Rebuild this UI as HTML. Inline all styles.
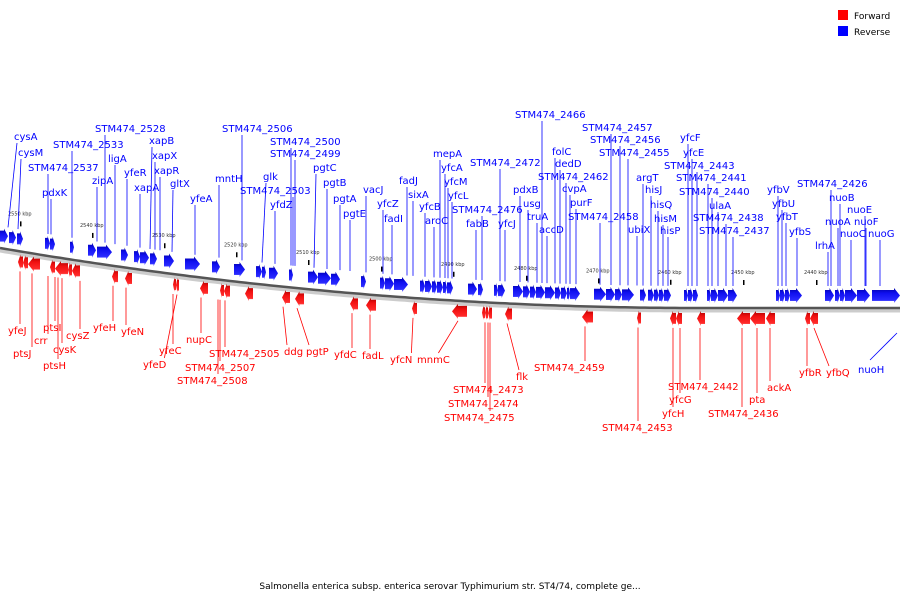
<!DOCTYPE html>
<html><head><meta charset="utf-8"><style>
body{margin:0;background:#fff;width:900px;height:600px;overflow:hidden}
svg{display:block;font-family:"DejaVu Sans","Liberation Sans",sans-serif}
</style></head><body>
<svg id="c" width="900" height="600" viewBox="0 0 900 600">
<defs>
<linearGradient id="gb" x1="0" y1="0" x2="0" y2="1"><stop offset="0" stop-color="#0000a8"/><stop offset="0.35" stop-color="#1010f0"/><stop offset="0.8" stop-color="#2a2aff"/><stop offset="1" stop-color="#9a9aff"/></linearGradient>
<linearGradient id="gr" x1="0" y1="0" x2="0" y2="1"><stop offset="0" stop-color="#a80000"/><stop offset="0.35" stop-color="#f01010"/><stop offset="0.8" stop-color="#ff2a2a"/><stop offset="1" stop-color="#ff9a9a"/></linearGradient>
</defs>
<g>
<rect x="838" y="10" width="10" height="10" fill="#f00"/>
<text x="854" y="19" font-size="9">Forward</text>
<rect x="838" y="26" width="10" height="10" fill="#00f"/>
<text x="854" y="35" font-size="9">Reverse</text>
</g>
<text x="450" y="589" font-size="9" text-anchor="middle">Salmonella enterica subsp. enterica serovar Typhimurium str. ST4/74, complete ge...</text>
</svg>
<script>
const blueGenes=[[0,8],[9,16],[17,23],[45,50],[50,55],[70,74],[88,96],[97,112],[121,128],[134,140],[140,149],[150,157],[164,174],[185,200],[212,220],[234,245],[256,262],[262,266],[269,278],[289,293],[308,318],[318,331],[331,340],[361,366],[380,385],[385,394],[394,408],[420,425],[425,432],[432,437],[437,443],[443,447],[447,453],[468,477],[478,483],[494,498],[498,505],[513,523],[523,530],[530,536],[536,545],[545,555],[555,561],[561,567],[567,570],[570,580],[594,606],[606,615],[615,622],[622,634],[640,646],[648,654],[654,659],[659,664],[664,671],[684,688],[688,693],[693,698],[707,711],[711,718],[718,728],[728,737],[776,780],[780,785],[785,790],[790,802],[825,834],[835,840],[840,845],[845,857],[857,870],[872,900]];
const redGenes=[[18,23],[23,28],[28,40],[50,55],[55,68],[68,72],[72,80],[112,118],[125,132],[173,176],[176,179],[200,208],[220,224],[224,230],[245,253],[282,290],[295,304],[350,358],[366,376],[412,417],[452,467],[482,485],[485,488],[488,492],[505,512],[582,593],[637,641],[670,676],[676,682],[697,705],[737,750],[750,765],[766,775],[805,810],[810,818]];
const blueNames=["cysA","cysM","STM474_2537","pdxK","STM474_2533","STM474_2528","ligA","zipA","yfeR","xapA","xapB","xapX","xapR","gltX","yfeA","mntH","STM474_2506","glk","STM474_2503","yfdZ","STM474_2500","STM474_2499","pgtC","pgtB","pgtA","pgtE","vacJ","yfcZ","fadI","fadJ","sixA","yfcB","aroC","mepA","yfcA","yfcM","yfcL","STM474_2476","fabB","STM474_2472","yfcJ","STM474_2466","pdxB","usg","truA","accD","folC","dedD","STM474_2462","cvpA","purF","STM474_2458","STM474_2457","STM474_2456","STM474_2455","argT","hisJ","ubiX","hisQ","hisM","hisP","yfcF","yfcE","STM474_2443","STM474_2441","STM474_2440","ulaA","STM474_2438","STM474_2437","yfbV","yfbU","yfbT","yfbS","STM474_2426","nuoB","nuoE","nuoA","nuoF","nuoC","nuoG","lrhA"];
const blueLabelX=[14,18,28,42,53,95,108,92,124,134,149,152,154,170,190,215,222,263,240,270,270,270,313,323,333,343,363,377,384,399,408,419,425,433,441,444,448,452,466,470,498,515,513,523,527,539,552,555,538,562,570,568,582,590,599,636,645,628,650,654,660,680,683,664,676,679,709,693,699,767,772,776,789,797,829,847,825,854,840,868,815];
const blueLabelY=[140,156,171,196,148,132,162,184,176,191,144,159,174,187,202,182,132,180,194,208,145,157,171,186,202,217,193,207,222,184,198,210,224,157,171,185,199,213,227,166,227,118,193,207,220,233,155,167,180,192,206,220,131,143,156,181,193,233,208,222,234,141,156,169,181,195,209,221,234,193,207,220,235,187,201,213,225,225,237,237,249];
const blueGeneX=[8,18,48,51,72,105,115,97,127,140,150,155,160,172,195,219,242,262,293,275,291,295,314,327,340,350,366,383,392,407,413,425,434,440,445,448,452,482,476,500,505,542,520,528,537,547,555,560,566,570,576,600,611,620,628,643,651,637,658,663,668,688,692,697,708,712,718,726,733,778,782,786,797,831,840,865,838,866,851,880,828];
const redNames=["yfeJ","ptsJ","crr","ptsI","cysK","ptsH","cysZ","yfeH","yfeN","yfeC","yfeD","nupC","STM474_2505","STM474_2507","STM474_2508","ddg","pgtP","yfdC","fadL","yfcN","mnmC","STM474_2473","STM474_2474","STM474_2475","flk","STM474_2459","STM474_2453","STM474_2442","yfcG","yfcH","STM474_2436","pta","ackA","yfbR","yfbQ"];
const redLabelX=[8,13,34,43,53,43,66,93,121,159,143,186,209,185,177,284,306,334,362,390,417,453,448,444,516,534,602,668,669,662,708,749,767,799,826];
const redLabelY=[334,357,344,331,353,369,339,331,335,354,368,343,357,371,384,355,355,358,359,363,363,393,407,421,380,371,431,390,403,417,417,403,391,376,376];
const redGeneX=[20,32,48,55,62,58,80,113,126,173,177,201,225,220,218,283,297,352,370,413,458,485,488,490,507,585,638,700,680,673,742,757,770,807,814];
const kbpLabels=["2550 kbp","2540 kbp","2530 kbp","2520 kbp","2510 kbp","2500 kbp","2490 kbp","2480 kbp","2470 kbp","2460 kbp","2450 kbp","2440 kbp"];
const kbpPos=[8,80,152,224,296,369,441,514,586,658,731,804];

const svg=document.getElementById('c');
const NS='http://www.w3.org/2000/svg';
function yb(x){const t=Math.max(0,1-x/700);return 308-60*t*t;}
function mk(tag,attrs){const e=document.createElementNS(NS,tag);for(const k in attrs)e.setAttribute(k,attrs[k]);svg.appendChild(e);return e;}
let d='';for(let x=0;x<=900;x+=5){d+=(x?'L':'M')+x+','+yb(x).toFixed(1);}
const sh=mk('path',{d:d,fill:'none',stroke:'#ccc','stroke-width':5,transform:'translate(0,2)'});


const bb=mk('path',{d:d,fill:'none',stroke:'#555','stroke-width':2.5});


kbpLabels.forEach((s,i)=>{const x=kbpPos[i];const y=yb(x)-34;
 const t=mk('text',{x:x,y:y,'font-size':5,fill:'#333'});t.textContent=s;
 
 
 const tk=mk('rect',{x:x+12,y:yb(x)-28,width:1.5,height:5,fill:'#000'});
 
 
});
function tw(s){return s.length*6.1;}
blueGenes.forEach(g=>{const a=g[0],b=g[1],x=(a+b)/2,y=yb(x);const top=y-20,bot=y-5,h=Math.min(6,(b-a)*0.5);
 const p=mk('polygon',{points:`${a},${top+2} ${b-h},${top+2} ${b-h},${top} ${b},${(top+bot)/2} ${b-h},${bot} ${b-h},${bot-2} ${a},${bot-2}`,fill:'url(#gb)'});
 
 
});
redGenes.forEach(g=>{const a=g[0],b=g[1],x=(a+b)/2,y=yb(x);const top=y+3,bot=y+18,h=Math.min(6,(b-a)*0.5);
 const p=mk('polygon',{points:`${b},${top+2} ${a+h},${top+2} ${a+h},${top} ${a},${(top+bot)/2} ${a+h},${bot} ${a+h},${bot-2} ${b},${bot-2}`,fill:'url(#gr)'});
 
 
});
blueNames.forEach((s,i)=>{const tx=blueLabelX[i],ty=blueLabelY[i],gx=blueGeneX[i];
 const sx=Math.min(Math.max(gx,tx+3),tx+tw(s)-3);
 const l=mk('line',{x1:sx,y1:ty+3,x2:gx,y2:yb(gx)-22,stroke:'#00f','stroke-width':0.8});
 
 
 const t=mk('text',{x:tx,y:ty,'font-size':10,fill:'#00f'});t.textContent=s;
 
 
});
redNames.forEach((s,i)=>{const tx=redLabelX[i],ty=redLabelY[i],gx=redGeneX[i];
 const sx=Math.min(Math.max(gx,tx+3),tx+tw(s)-3);
 const l=mk('line',{x1:gx,y1:yb(gx)+20,x2:sx,y2:ty-10,stroke:'#f00','stroke-width':0.8});
 
 
 const t=mk('text',{x:tx,y:ty,'font-size':10,fill:'#f00'});t.textContent=s;
 
 
});
const nl=mk('line',{x1:870,y1:360,x2:897,y2:333,stroke:'#00f','stroke-width':0.8});


const nt=mk('text',{x:858,y:373,'font-size':10,fill:'#00f'});nt.textContent='nuoH';


</script>
</body></html>
